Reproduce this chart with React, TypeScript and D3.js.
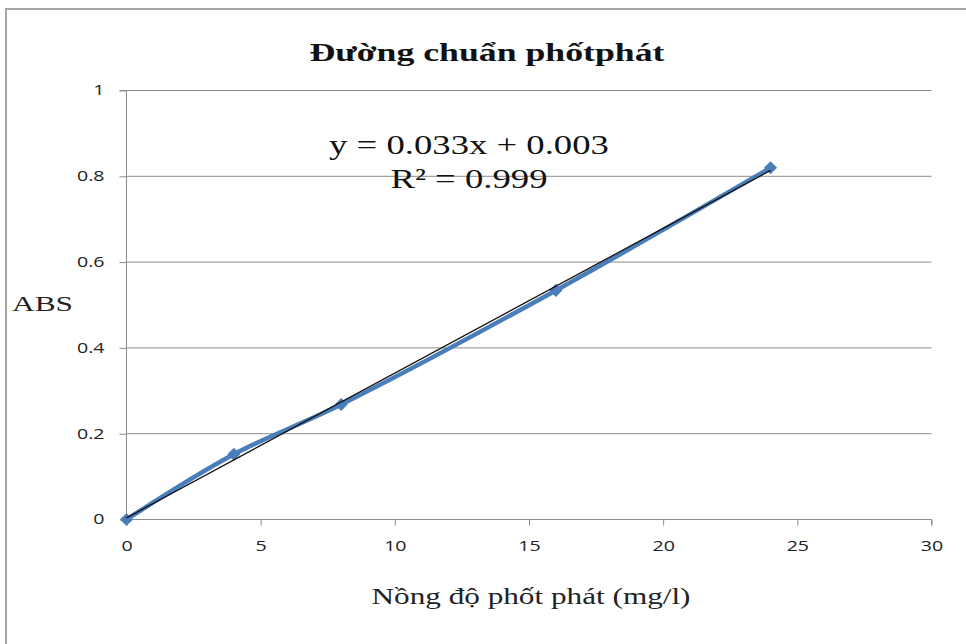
import React from "react";
import * as d3 from "d3";

// concentrations (mg/l) and absorbance
const concentrations = [0, 4, 8, 16, 24];
const absorbance = [0, 0.152, 0.268, 0.534, 0.82];
const xTicks = [0, 5, 10, 15, 20, 25, 30];
const yTicks = [0, 0.2, 0.4, 0.6, 0.8, 1];
const titleText = "Đường chuẩn phốtphát";
const xTitle = "Nồng độ phốt phát (mg/l)";
const yTitle = "ABS";
const eqLines = ["y = 0.033x + 0.003", "R² = 0.999"];

const W = 966;
const H = 644;
const SERIF = "'Liberation Serif', 'Times New Roman', serif";
const SANS = "'Open Sans', 'Liberation Sans', sans-serif";

// the original picture is stretched sideways, so widen glyphs to match
function stretch(sel: d3.Selection<any, any, any, any>, factor: number) {
  sel.each(function () {
    const t = this as SVGTextElement;
    const len = t.getComputedTextLength();
    d3.select(t).attr("textLength", len * factor).attr("lengthAdjust", "spacingAndGlyphs");
  });
}

function drawChart(svgEl: SVGSVGElement) {
  const svg = d3.select(svgEl);
  svg.selectAll("*").remove();

  const x = d3.scaleLinear().domain([0, 30]).range([126.5, 931.5]);
  const y = d3.scaleLinear().domain([0, 1]).range([519.5, 90.5]);

  // outer frame
  svg
    .append("rect")
    .attr("x", 6)
    .attr("y", 9)
    .attr("width", W + 10)
    .attr("height", H + 10)
    .attr("fill", "white")
    .attr("stroke", "#a6a6a6")
    .attr("stroke-width", 2);

  // gridlines
  svg
    .append("g")
    .selectAll("line")
    .data(yTicks.filter((d) => d > 0))
    .join("line")
    .attr("x1", x(0))
    .attr("x2", x(30))
    .attr("y1", (d) => y(d))
    .attr("y2", (d) => y(d))
    .attr("stroke", "#8c8c8c")
    .attr("stroke-width", 1);

  // y axis
  const yAxis = svg
    .append("g")
    .attr("transform", `translate(${x(0)},0)`)
    .call(
      d3
        .axisLeft(y)
        .tickValues(yTicks)
        .tickSize(7)
        .tickPadding(15)
        .tickFormat((d) => String(+d))
    );
  yAxis.select(".domain").attr("stroke", "#8c8c8c").attr("d", `M-7,${y(1)}H0V${y(0)}`);
  yAxis.selectAll(".tick line").attr("stroke", "#8c8c8c");
  const yLabels = yAxis
    .selectAll("text")
    .attr("font-family", SANS)
    .attr("font-size", 14)
    .attr("fill", "#222");
  stretch(yLabels, 1.4);

  // x axis
  const xAxis = svg
    .append("g")
    .attr("transform", `translate(0,${y(0)})`)
    .call(d3.axisBottom(x).tickValues(xTicks).tickSize(6).tickPadding(16).tickFormat((d) => String(d)));
  xAxis.select(".domain").attr("stroke", "#8c8c8c").attr("d", `M${x(0)},0H${x(30)}V6`);
  xAxis.selectAll(".tick line").attr("stroke", "#8c8c8c");
  const xLabels = xAxis
    .selectAll("text")
    .attr("font-family", SANS)
    .attr("font-size", 14)
    .attr("fill", "#222");
  stretch(xLabels, 1.4);

  const pts: [number, number][] = concentrations.map((c, i) => [c, absorbance[i]]);

  // smoothed data line
  const line = d3
    .line<[number, number]>()
    .x((d) => x(d[0]))
    .y((d) => y(d[1]))
    .curve(d3.curveCatmullRom.alpha(0.5));
  svg
    .append("path")
    .datum(pts)
    .attr("fill", "none")
    .attr("stroke", "#4a7ebb")
    .attr("stroke-width", 4.5)
    .attr("stroke-linejoin", "round")
    .attr("d", line);

  // markers
  svg
    .append("g")
    .selectAll("path")
    .data(pts)
    .join("path")
    .attr("transform", (d) => `translate(${x(d[0])},${y(d[1])})`)
    .attr("d", d3.symbol(d3.symbolDiamond2, 110)())
    .attr("fill", "#4a7ebb");

  // linear trendline (least squares)
  const mx = d3.mean(concentrations)!;
  const my = d3.mean(absorbance)!;
  const sxy = d3.sum(concentrations, (c, i) => (c - mx) * (absorbance[i] - my));
  const sxx = d3.sum(concentrations, (c) => (c - mx) ** 2);
  const slope = sxy / sxx;
  const icpt = my - slope * mx;
  const [x0, x1] = d3.extent(concentrations) as [number, number];
  svg
    .append("line")
    .attr("x1", x(x0))
    .attr("y1", y(slope * x0 + icpt))
    .attr("x2", x(x1))
    .attr("y2", y(slope * x1 + icpt))
    .attr("stroke", "#111")
    .attr("stroke-width", 1.3);

  // equation label
  const eq = svg
    .append("g")
    .selectAll("text")
    .data(eqLines)
    .join("text")
    .attr("x", 469)
    .attr("y", (_d, i) => 154 + i * 34)
    .attr("text-anchor", "middle")
    .attr("font-family", SERIF)
    .attr("font-size", 28)
    .attr("fill", "#111")
    .text((d) => d);
  stretch(eq, 1.31);

  // title
  const title = svg
    .append("text")
    .attr("x", 487)
    .attr("y", 61)
    .attr("text-anchor", "middle")
    .attr("font-family", SERIF)
    .attr("font-weight", "bold")
    .attr("font-size", 25)
    .attr("fill", "#111")
    .text(titleText);
  stretch(title, 355 / title.node()!.getComputedTextLength());

  const xt = svg
    .append("text")
    .attr("x", 531)
    .attr("y", 604)
    .attr("text-anchor", "middle")
    .attr("font-family", SERIF)
    .attr("font-size", 24)
    .attr("fill", "#222")
    .text(xTitle);
  stretch(xt, 319 / xt.node()!.getComputedTextLength());

  const yt = svg
    .append("text")
    .attr("x", 12)
    .attr("y", 311)
    .attr("font-family", SERIF)
    .attr("font-size", 22)
    .attr("fill", "#222")
    .text(yTitle);
  stretch(yt, 61 / yt.node()!.getComputedTextLength());
}

const App = () => {
  const ref = React.useRef<SVGSVGElement>(null);

  React.useEffect(() => {
    if (ref.current) drawChart(ref.current);
  }, []);

  return (
    <svg
      ref={ref}
      width={W}
      height={H}
      style={{ position: "absolute", left: 0, top: 0, display: "block", background: "white" }}
    />
  );
};

export default App;
